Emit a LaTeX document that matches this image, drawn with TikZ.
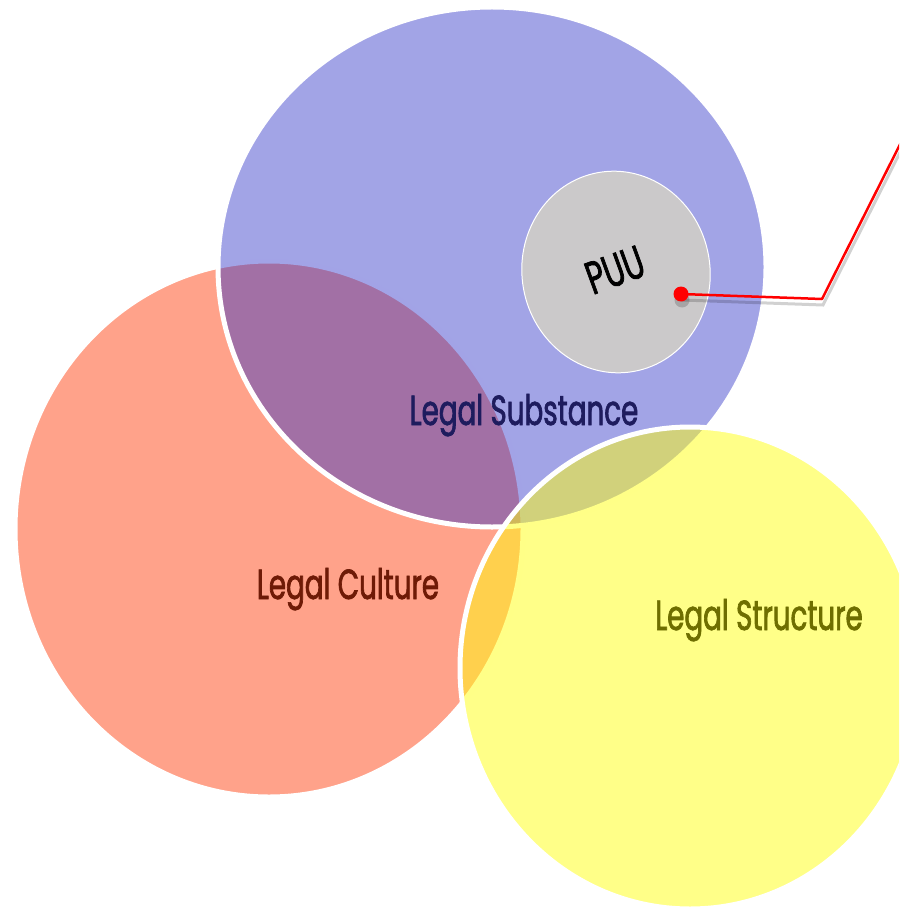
\documentclass[tikz,border=0pt]{standalone}
\usepackage{fontspec}
\setmainfont[FakeStretch=0.66,FakeBold=1.6]{Poppins}

\definecolor{cultfill}{RGB}{255,162,138}
\definecolor{substfill}{RGB}{49,53,200}
\definecolor{structfill}{RGB}{255,255,17}
\definecolor{puufill}{RGB}{203,201,202}
\definecolor{culttext}{RGB}{110,26,6}
\definecolor{substtext}{RGB}{30,28,94}
\definecolor{structtext}{RGB}{110,110,0}

\begin{document}
\begin{tikzpicture}[x=1pt,y=-1pt,
    venn/.style={draw=white,line width=5pt},
    venntext/.style={font=\fontsize{42}{48}\selectfont,inner sep=0pt,anchor=base}]
  \useasboundingbox (0,0) rectangle (899,909);
  \clip (0,0) rectangle (899,909);

  % the three circles
  \path[venn,fill=cultfill] (269,529) ellipse [x radius=254,y radius=268];
  \path[venn,fill=substfill,fill opacity=0.45] (492,267) ellipse [x radius=274,y radius=260];
  \node[venntext,text=substtext] (substance) at (524,425) {Legal Substance};
  \path[venn,fill=structfill,fill opacity=0.5] (690,668) ellipse [x radius=230,y radius=241];
  \node[venntext,text=culttext] (culture) at (348,599) {Legal Culture};
  \node[venntext,text=structtext] (structure) at (759,630) {Legal Structure};

  % PUU inside the substance
  \path[draw=white,line width=1pt,fill=puufill,rotate around={10:(616,272)}]
    (616,272) ellipse [x radius=94,y radius=101];
  \node[venntext,anchor=center,font=\fontsize{46}{52}\selectfont,rotate=20] (puu) at (615,270) {PUU};

  % pointer
  \coordinate (bend) at (822,299);
  \coordinate (far) at (930,85);
  \node[circle,inner sep=0pt,minimum size=15pt] (dot) at (681,294) {};
  \begin{scope}[transform canvas={xshift=1pt,yshift=-6pt},black,opacity=0.18]
    \fill (dot) circle [radius=7.5];
    \draw[line width=3pt] (dot.center) -- (bend) -- (far);
  \end{scope}
  \draw[red,line width=2.5pt,line join=round] (dot.center) -- (bend) -- (far);
  \fill[red] (dot) circle [radius=7.5];
\end{tikzpicture}
\end{document}
